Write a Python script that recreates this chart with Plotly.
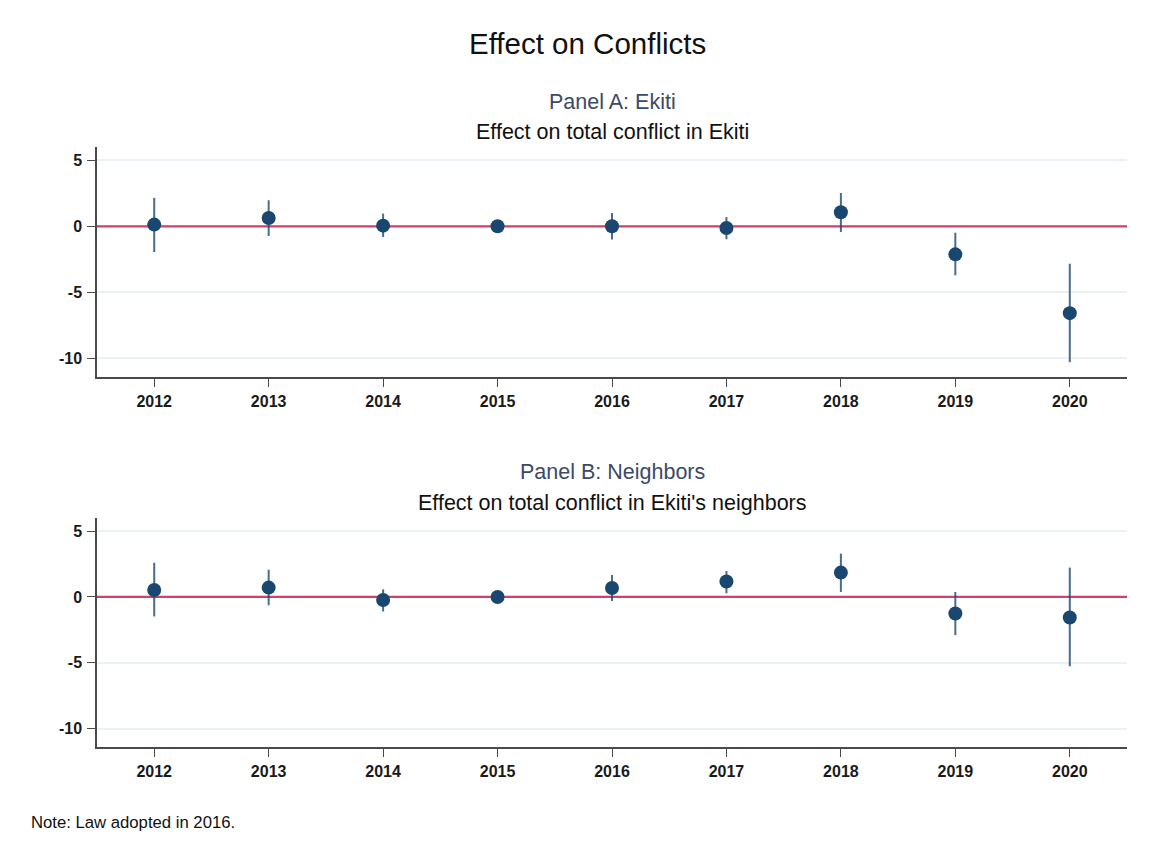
import plotly.graph_objects as go

# Event-study estimates with 95% confidence intervals
years = [2012, 2013, 2014, 2015, 2016, 2017, 2018, 2019, 2020]

ekiti_coef = [0.13, 0.63, 0.05, 0.0, 0.0, -0.13, 1.06, -2.12, -6.57]
ekiti_hi = [2.15, 1.97, 0.96, 0.0, 1.0, 0.70, 2.52, -0.48, -2.83]
ekiti_lo = [-1.95, -0.73, -0.81, 0.0, -1.0, -0.98, -0.43, -3.71, -10.28]

nbr_coef = [0.53, 0.71, -0.23, 0.0, 0.68, 1.17, 1.85, -1.26, -1.56]
nbr_hi = [2.60, 2.07, 0.58, 0.0, 1.67, 1.97, 3.29, 0.38, 2.23]
nbr_lo = [-1.48, -0.63, -1.10, 0.0, -0.30, 0.28, 0.38, -2.90, -5.27]

y_ticks = [5, 0, -5, -10]

X_RANGE = [2011.5, 2020.5]
Y_RANGE = [-11.4, 6.0]

W, H = 1162, 850
NAVY = "#1a476f"
FONT = "Liberation Sans, Arial, sans-serif"
TICKFONT = dict(family=FONT, size=16, color="#1a1a1a", weight="bold")

fig = go.Figure()

panels = [
    ("x", "y", ekiti_coef, ekiti_hi, ekiti_lo),
    ("x2", "y2", nbr_coef, nbr_hi, nbr_lo),
]
for xa, ya, coef, hi, lo in panels:
    # Reference line at zero, drawn first so the estimates sit on top
    fig.add_trace(go.Scatter(
        x=X_RANGE, y=[0, 0], xaxis=xa, yaxis=ya, mode="lines",
        line=dict(color="#d2416a", width=2.2),
        showlegend=False, hoverinfo="skip",
    ))
    fig.add_trace(go.Scatter(
        x=years, y=coef, xaxis=xa, yaxis=ya, mode="markers",
        marker=dict(color=NAVY, size=14),
        error_y=dict(type="data", symmetric=False,
                     array=[h - c for h, c in zip(hi, coef)],
                     arrayminus=[c - l for c, l in zip(coef, lo)],
                     width=0, thickness=2, color="rgba(26,71,111,0.8)"),
        showlegend=False, hoverinfo="skip",
    ))

x_dom = [97 / W, 1127 / W]
yA = [1 - 377 / H, 1 - 147 / H]
yB = [1 - 747 / H, 1 - 518 / H]

xaxis_common = dict(
    range=X_RANGE, tickvals=years, ticktext=[str(y) for y in years],
    showgrid=False, zeroline=False, showline=True, linecolor="#4a4a4a",
    linewidth=1.5, ticks="outside", ticklen=8, tickcolor="#4a4a4a",
    ticklabelstandoff=1, tickfont=TICKFONT, domain=x_dom,
)
yaxis_common = dict(
    range=Y_RANGE, tickvals=y_ticks, ticktext=[str(v) for v in y_ticks],
    showgrid=True, gridcolor="#eaf2f3", gridwidth=1.5, zeroline=False,
    showline=True, linecolor="#4a4a4a", linewidth=1.5, ticks="outside",
    ticklen=8, tickcolor="#4a4a4a", ticklabelstandoff=2, tickfont=TICKFONT,
)

fig.update_layout(
    width=W, height=H, margin=dict(l=0, r=0, t=0, b=0),
    paper_bgcolor="white", plot_bgcolor="white",
    xaxis=dict(**xaxis_common, anchor="y"),
    yaxis=dict(**yaxis_common, domain=yA, anchor="x"),
    xaxis2=dict(**xaxis_common, anchor="y2"),
    yaxis2=dict(**yaxis_common, domain=yB, anchor="x2"),
)

def label(text, y_px, size, color="#111111", x_px=587, xanchor="center"):
    fig.add_annotation(text=text, xref="paper", yref="paper",
                       x=x_px / W, y=1 - y_px / H, xanchor=xanchor, yanchor="middle",
                       showarrow=False, font=dict(family=FONT, size=size, color=color))

label("Effect on Conflicts", 44, 29.5)
label("Panel A: Ekiti", 102, 21.5, color="#3c4a68", x_px=612)
label("Effect on total conflict in Ekiti", 132, 21.5, x_px=612)
label("Panel B: Neighbors", 472, 21.5, color="#3c4a68", x_px=612)
label("Effect on total conflict in Ekiti's neighbors", 503, 21.5, x_px=612)
label("Note: Law adopted in 2016.", 822, 16.7, x_px=29, xanchor="left")

fig.write_html("out.html")
